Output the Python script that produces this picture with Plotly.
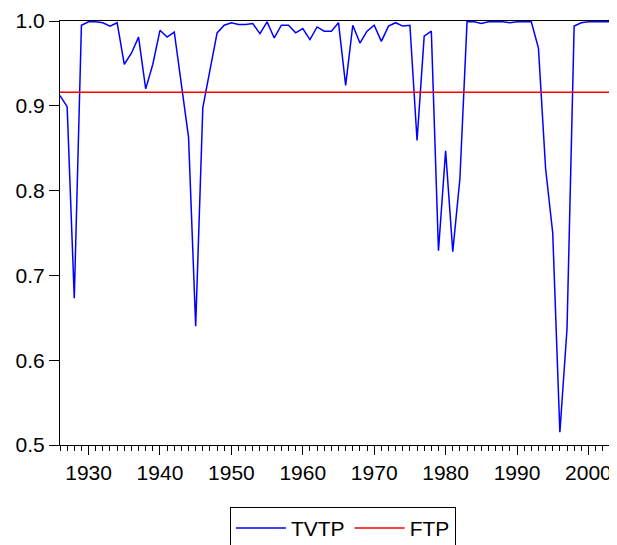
import plotly.graph_objects as go

years = list(range(1926, 2005))
tvtp = [0.912, 0.899, 0.673, 0.995, 0.999, 0.999, 0.998, 0.994, 0.998, 0.949,
        0.962, 0.981, 0.920, 0.949, 0.989, 0.981, 0.987, 0.928, 0.863, 0.640,
        0.898, 0.942, 0.986, 0.995, 0.998, 0.996, 0.996, 0.997, 0.985, 0.999,
        0.980, 0.995, 0.995, 0.986, 0.991, 0.978, 0.993, 0.988, 0.988, 0.998,
        0.924, 0.995, 0.974, 0.988, 0.995, 0.976, 0.994, 0.998, 0.994, 0.995,
        0.859, 0.982, 0.988, 0.729, 0.847, 0.728, 0.814, 0.999, 0.999, 0.997,
        0.999, 0.999, 0.999, 0.998, 0.999, 0.999, 0.999, 0.968, 0.826, 0.750,
        0.515, 0.637, 0.994, 0.998, 0.999, 0.999, 0.999, 0.999, 0.999]
ftp_value = 0.916
ftp = [ftp_value] * len(years)

x_tickvals = [1930, 1940, 1950, 1960, 1970, 1980, 1990, 2000]
y_tickvals = [0.5, 0.6, 0.7, 0.8, 0.9, 1.0]

font_family = "Liberation Sans, Arial, sans-serif"

fig = go.Figure()
fig.add_trace(go.Scatter(x=years, y=tvtp, mode="lines", name="TVTP",
                         line=dict(color="#0000FF", width=1.5)))
fig.add_trace(go.Scatter(x=years, y=ftp, mode="lines", name="FTP",
                         line=dict(color="#FF0000", width=1.5)))

# The page adds an 8px body margin, so the figure is sized to fill the window from there.
fig.update_layout(
    width=609, height=537,
    margin=dict(l=52, r=0, t=13, b=100, autoexpand=False),
    paper_bgcolor="white", plot_bgcolor="white",
    font=dict(family=font_family, size=21, color="black"),
    showlegend=True,
    legend=dict(orientation="h", x=0.508, xanchor="center", y=-0.146, yanchor="top",
                bordercolor="black", borderwidth=1, bgcolor="white",
                font=dict(size=21), itemwidth=50),
    xaxis=dict(range=[1926, 2004], tickvals=x_tickvals, ticktext=[str(v) for v in x_tickvals],
               ticks="outside", ticklen=9, tickwidth=1, tickcolor="black",
               showline=True, linecolor="black", linewidth=1, mirror=True,
               showgrid=False, zeroline=False, automargin=False,
               minor=dict(dtick=1, tick0=1926, ticks="outside", ticklen=5,
                          tickcolor="black", tickwidth=1, showgrid=False)),
    yaxis=dict(range=[0.5, 1.0], tickvals=y_tickvals, ticktext=[f"{v:.1f}" for v in y_tickvals],
               ticks="outside", ticklen=10, tickwidth=1, tickcolor="black",
               showline=True, linecolor="black", linewidth=1,
               showgrid=False, zeroline=False, automargin=False),
)

fig.write_html("out.html")
